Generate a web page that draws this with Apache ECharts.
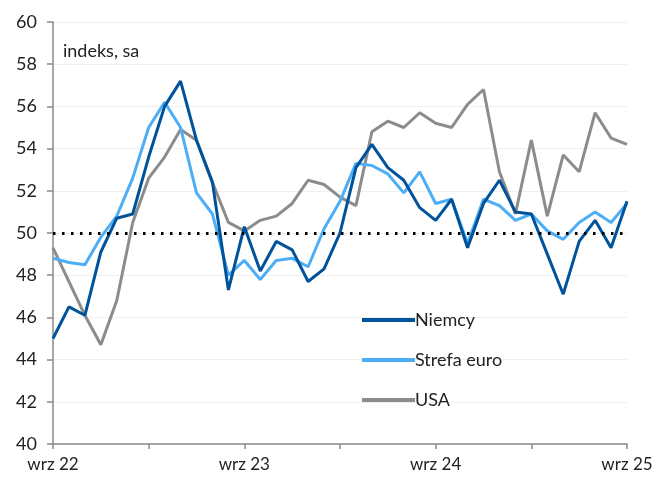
<!DOCTYPE html>
<html>
<head>
<meta charset="utf-8">
<script src="https://cdn.jsdelivr.net/npm/echarts@6/dist/echarts.min.js"></script>
<style>
  html, body { margin: 0; padding: 0; background: #fff; }
  #chart { width: 659px; height: 479px; }
</style>
</head>
<body>
<div id="chart"></div>
<script>
// miesiace od wrz 22 do wrz 25
var miesiace = ['sty', 'lut', 'mar', 'kwi', 'maj', 'cze', 'lip', 'sie', 'wrz', 'paź', 'lis', 'gru'];
var categories = [];
for (var k = 0; k < 37; k++) {
    var m = (8 + k) % 12;
    var r = 22 + Math.floor((8 + k) / 12);
    categories.push(miesiace[m] + ' ' + r);
}

var niemcy = [45.0, 46.5, 46.1, 49.1, 50.7, 50.9, 53.6, 56.0, 57.2, 54.4, 52.4, 47.3,
    50.3, 48.2, 49.6, 49.2, 47.7, 48.3, 50.0, 53.1, 54.2, 53.1, 52.5, 51.2,
    50.6, 51.6, 49.3, 51.4, 52.5, 51.0, 50.9, 49.0, 47.1, 49.6, 50.6, 49.3, 51.5];
var strefaEuro = [48.8, 48.6, 48.5, 49.8, 50.8, 52.6, 55.0, 56.2, 55.0, 51.9, 50.9, 48.0,
    48.7, 47.8, 48.7, 48.8, 48.4, 50.2, 51.5, 53.3, 53.2, 52.8, 51.9, 52.9,
    51.4, 51.6, 49.5, 51.6, 51.3, 50.6, 50.9, 50.1, 49.7, 50.5, 51.0, 50.5, 51.4];
var usa = [49.3, 47.7, 46.1, 44.7, 46.8, 50.5, 52.6, 53.6, 54.9, 54.4, 52.4, 50.5,
    50.1, 50.6, 50.8, 51.4, 52.5, 52.3, 51.7, 51.3, 54.8, 55.3, 55.0, 55.7,
    55.2, 55.0, 56.1, 56.8, 52.9, 50.9, 54.4, 50.8, 53.7, 52.9, 55.7, 54.5, 54.2];

var font = 'Lato';
var myChart = echarts.init(document.getElementById('chart'));
var option = {
    animation: false,
    color: ['#00539B', '#4DAEF5', '#8C8C8C'],
    textStyle: { fontFamily: font },
    grid: { left: 53, right: 32, top: 22, bottom: 35, containLabel: false },
    graphic: [{
        type: 'text',
        left: 63,
        top: 42,
        style: { text: 'indeks, sa', font: '18px ' + font, fill: '#222' }
    }],
    legend: {
        orient: 'vertical',
        left: 357,
        top: 306,
        itemWidth: 53,
        itemHeight: 4,
        itemGap: 22,
        icon: 'rect',
        textStyle: { fontSize: 18, color: '#222', fontFamily: font, padding: [0, 0, 0, -5] },
        data: ['Niemcy', 'Strefa euro', 'USA']
    },
    xAxis: {
        type: 'category',
        data: categories,
        boundaryGap: false,
        axisLine: { lineStyle: { color: '#8a8a8a', width: 1.5 } },
        axisTick: {
            length: 5,
            lineStyle: { color: '#8a8a8a', width: 1.5 },
            interval: function (i) { return i % 6 === 0; }
        },
        axisLabel: {
            interval: function (i) { return i % 12 === 0; },
            fontSize: 17,
            color: '#222',
            margin: 12,
            fontFamily: font
        },
        splitLine: { show: false }
    },
    yAxis: {
        type: 'value',
        min: 40,
        max: 60,
        interval: 2,
        axisLine: { show: true, lineStyle: { color: '#8a8a8a', width: 1.5 } },
        axisTick: { show: true, length: 6, lineStyle: { color: '#8a8a8a', width: 1.5 } },
        axisLabel: { fontSize: 18, color: '#222', margin: 16, fontFamily: font },
        splitLine: { lineStyle: { color: '#f0f0f0', width: 1 } }
    },
    series: [{
        name: 'Niemcy',
        type: 'line',
        data: niemcy,
        symbol: 'none',
        lineStyle: { width: 3 },
        markLine: {
            silent: true,
            symbol: 'none',
            label: { show: false },
            lineStyle: { color: '#000', type: [2.5, 6.5], width: 3 },
            data: [{ yAxis: 50 }]
        },
        z: 4
    }, {
        name: 'Strefa euro',
        type: 'line',
        data: strefaEuro,
        symbol: 'none',
        lineStyle: { width: 3 },
        z: 3
    }, {
        name: 'USA',
        type: 'line',
        data: usa,
        symbol: 'none',
        lineStyle: { width: 3 },
        z: 2
    }]
};
myChart.setOption(option);
</script>
</body>
</html>
